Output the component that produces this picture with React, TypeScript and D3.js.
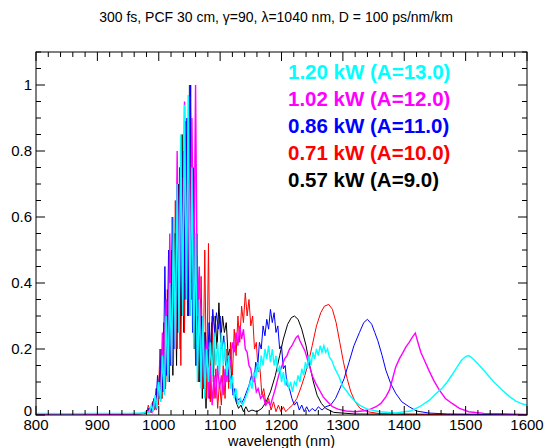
import React from "react";
import * as d3 from "d3";

const W = 552, H = 448;
const M = { left: 36, right: 527, top: 52, bottom: 415 };

const titleText = "300 fs, PCF 30 cm, \u03b3=90, \u03bb=1040 nm, D = 100 ps/nm/km";
const xLabel = "wavelength (nm)";
const xTicks = [800, 900, 1000, 1100, 1200, 1300, 1400, 1500, 1600];
const yTicks = [0, 0.2, 0.4, 0.6, 0.8, 1];
const yTickLabels = ["0", "0.2", "0.4", "0.6", "0.8", "1"];
const legendLabels = ["1.20 kW (A=13.0)", "1.02 kW (A=12.0)", "0.86 kW (A=11.0)", "0.71 kW (A=10.0)", "0.57 kW (A=9.0)"];
const legendColors = ["#00ffff", "#ff00ff", "#0000ff", "#ff0000", "#000000"];

const black9: [number, number][] = [[800,0.002],[900,0.002],[960,0.003],[980,0.006],[984,0.02],[987,0.008],[990,0.04],[993,0.015],[996,0.08],[999,0.03],[1002,0.15],[1005,0.05],[1008,0.22],[1011,0.08],[1014,0.35],[1017,0.1],[1020,0.45],[1023,0.12],[1026,0.55],[1029,0.15],[1032,0.7],[1035,0.2],[1038,0.85],[1041,0.25],[1044,0.89],[1047,0.3],[1050,1.0],[1053,0.4],[1056,0.75],[1059,0.2],[1062,0.55],[1065,0.1],[1068,0.35],[1071,0.05],[1074,0.25],[1077,0.02],[1080,0.2],[1083,0.05],[1086,0.28],[1089,0.1],[1092,0.3],[1095,0.2],[1098,0.34],[1101,0.22],[1104,0.3],[1107,0.25],[1110,0.28],[1113,0.18],[1116,0.2],[1119,0.1],[1122,0.08],[1126,0.04],[1130,0.02],[1134,0.03],[1138,0.01],[1142,0.025],[1146,0.01],[1152,0.015],[1160,0.01],[1168,0.02],[1175,0.04],[1182,0.07],[1190,0.12],[1197,0.18],[1203,0.23],[1210,0.275],[1216,0.295],[1221,0.3],[1227,0.29],[1233,0.26],[1240,0.21],[1246,0.15],[1252,0.1],[1258,0.06],[1265,0.035],[1272,0.02],[1285,0.008],[1320,0.003],[1400,0.002],[1600,0.001]];

const red10: [number, number][] = [[800,0.002],[900,0.002],[960,0.003],[980,0.005],[983,0.03],[986,0.01],[990,0.04],[993,0.015],[996,0.08],[999,0.03],[1002,0.2],[1005,0.05],[1008,0.28],[1011,0.08],[1014,0.38],[1017,0.12],[1021,0.5],[1024,0.15],[1027,0.65],[1030,0.2],[1033,0.5],[1036,0.15],[1039,0.72],[1042,0.25],[1045,0.85],[1048,0.3],[1051,1.0],[1054,0.35],[1057,0.6],[1060,0.15],[1063,0.48],[1066,0.1],[1069,0.42],[1072,0.08],[1075,0.5],[1078,0.05],[1081,0.52],[1084,0.04],[1087,0.3],[1090,0.05],[1093,0.14],[1096,0.02],[1099,0.1],[1102,0.03],[1105,0.15],[1108,0.05],[1111,0.2],[1114,0.08],[1117,0.22],[1120,0.12],[1123,0.26],[1126,0.18],[1129,0.3],[1132,0.22],[1135,0.33],[1138,0.28],[1141,0.37],[1144,0.3],[1147,0.35],[1150,0.27],[1153,0.3],[1156,0.2],[1159,0.22],[1162,0.13],[1165,0.14],[1168,0.06],[1171,0.08],[1175,0.03],[1179,0.05],[1183,0.015],[1187,0.04],[1191,0.01],[1195,0.03],[1199,0.01],[1203,0.025],[1207,0.01],[1212,0.02],[1218,0.03],[1225,0.05],[1232,0.085],[1238,0.12],[1244,0.16],[1250,0.21],[1257,0.27],[1264,0.31],[1270,0.33],[1277,0.335],[1283,0.32],[1289,0.28],[1295,0.22],[1301,0.16],[1307,0.11],[1313,0.07],[1320,0.04],[1328,0.02],[1340,0.01],[1360,0.004],[1450,0.002],[1600,0.001]];

const blue11: [number, number][] = [[800,0.002],[900,0.002],[960,0.003],[980,0.005],[984,0.02],[988,0.008],[992,0.05],[995,0.02],[998,0.12],[1001,0.05],[1004,0.2],[1007,0.07],[1010,0.45],[1013,0.12],[1016,0.5],[1019,0.15],[1022,0.6],[1025,0.2],[1028,0.55],[1031,0.25],[1034,0.75],[1037,0.3],[1040,0.8],[1043,0.35],[1046,0.9],[1049,0.3],[1052,1.0],[1055,0.25],[1058,0.6],[1061,0.15],[1064,0.4],[1067,0.1],[1070,0.3],[1073,0.08],[1076,0.25],[1079,0.12],[1082,0.28],[1085,0.18],[1088,0.32],[1091,0.25],[1094,0.31],[1097,0.26],[1100,0.3],[1103,0.2],[1106,0.24],[1109,0.15],[1112,0.17],[1115,0.1],[1118,0.12],[1121,0.06],[1124,0.08],[1127,0.04],[1131,0.05],[1135,0.035],[1139,0.05],[1143,0.07],[1147,0.09],[1151,0.12],[1155,0.1],[1158,0.16],[1161,0.14],[1164,0.22],[1167,0.2],[1170,0.27],[1173,0.24],[1176,0.29],[1179,0.26],[1182,0.32],[1185,0.28],[1188,0.31],[1191,0.25],[1194,0.27],[1197,0.2],[1200,0.21],[1203,0.14],[1206,0.15],[1209,0.09],[1213,0.08],[1217,0.05],[1221,0.03],[1225,0.04],[1229,0.015],[1233,0.03],[1237,0.01],[1241,0.025],[1245,0.01],[1250,0.02],[1255,0.012],[1260,0.025],[1266,0.015],[1272,0.025],[1280,0.03],[1288,0.05],[1294,0.075],[1302,0.11],[1310,0.16],[1318,0.21],[1327,0.25],[1334,0.28],[1340,0.29],[1347,0.275],[1352,0.25],[1357,0.225],[1364,0.18],[1370,0.136],[1378,0.095],[1386,0.066],[1396,0.04],[1408,0.025],[1420,0.012],[1440,0.006],[1470,0.003],[1600,0.001]];

const magenta12: [number, number][] = [[800,0.002],[900,0.002],[960,0.003],[980,0.005],[985,0.015],[989,0.008],[993,0.04],[996,0.015],[1000,0.1],[1003,0.04],[1006,0.25],[1009,0.08],[1012,0.35],[1015,0.1],[1018,0.55],[1021,0.15],[1024,0.45],[1027,0.2],[1030,0.8],[1033,0.3],[1036,0.79],[1039,0.35],[1042,0.95],[1045,0.4],[1048,0.7],[1051,0.3],[1054,0.9],[1057,0.4],[1060,1.0],[1063,0.3],[1066,0.45],[1069,0.15],[1072,0.3],[1075,0.08],[1078,0.22],[1081,0.05],[1084,0.15],[1087,0.03],[1090,0.12],[1093,0.05],[1096,0.15],[1099,0.08],[1102,0.12],[1105,0.06],[1108,0.14],[1111,0.1],[1114,0.18],[1117,0.15],[1120,0.22],[1123,0.19],[1126,0.25],[1129,0.21],[1132,0.27],[1135,0.23],[1138,0.26],[1141,0.2],[1144,0.19],[1147,0.15],[1150,0.14],[1153,0.1],[1156,0.11],[1159,0.07],[1162,0.08],[1166,0.05],[1170,0.06],[1174,0.03],[1178,0.04],[1182,0.03],[1186,0.055],[1190,0.08],[1194,0.11],[1197,0.13],[1201,0.15],[1205,0.17],[1209,0.18],[1213,0.2],[1217,0.21],[1221,0.225],[1224,0.235],[1227,0.24],[1230,0.225],[1234,0.21],[1238,0.195],[1242,0.17],[1246,0.145],[1251,0.115],[1256,0.095],[1262,0.075],[1268,0.055],[1275,0.04],[1283,0.025],[1292,0.018],[1305,0.012],[1320,0.01],[1335,0.013],[1345,0.018],[1354,0.025],[1362,0.035],[1370,0.055],[1376,0.076],[1381,0.11],[1386,0.145],[1392,0.17],[1398,0.19],[1403,0.207],[1408,0.22],[1413,0.235],[1418,0.248],[1423,0.215],[1427,0.19],[1433,0.165],[1440,0.136],[1448,0.105],[1457,0.076],[1467,0.05],[1478,0.035],[1490,0.02],[1505,0.01],[1530,0.005],[1600,0.002]];

const cyan13: [number, number][] = [[800,0.005],[850,0.004],[900,0.005],[950,0.005],[975,0.006],[980,0.012],[984,0.006],[988,0.03],[991,0.01],[994,0.06],[997,0.02],[1000,0.1],[1003,0.04],[1006,0.18],[1009,0.06],[1012,0.3],[1015,0.1],[1018,0.4],[1021,0.15],[1024,0.6],[1027,0.2],[1030,0.7],[1033,0.25],[1036,0.85],[1039,0.3],[1042,0.94],[1045,0.35],[1048,0.97],[1051,0.3],[1054,0.75],[1057,0.2],[1060,0.55],[1063,0.1],[1066,0.35],[1069,0.08],[1072,0.3],[1075,0.05],[1078,0.2],[1081,0.1],[1084,0.22],[1087,0.12],[1090,0.25],[1093,0.15],[1096,0.22],[1099,0.12],[1102,0.25],[1105,0.15],[1108,0.22],[1111,0.12],[1114,0.18],[1117,0.08],[1120,0.12],[1123,0.05],[1126,0.08],[1129,0.03],[1133,0.05],[1137,0.03],[1141,0.05],[1145,0.07],[1149,0.1],[1152,0.08],[1155,0.13],[1158,0.11],[1161,0.16],[1164,0.13],[1167,0.18],[1170,0.15],[1173,0.2],[1176,0.17],[1179,0.21],[1182,0.16],[1185,0.2],[1188,0.15],[1191,0.18],[1194,0.13],[1197,0.15],[1200,0.1],[1203,0.13],[1206,0.09],[1209,0.11],[1212,0.08],[1215,0.1],[1218,0.07],[1221,0.1],[1224,0.09],[1227,0.12],[1230,0.1],[1233,0.14],[1236,0.12],[1239,0.16],[1242,0.14],[1245,0.18],[1248,0.15],[1251,0.19],[1254,0.17],[1257,0.2],[1260,0.18],[1263,0.21],[1266,0.19],[1269,0.21],[1272,0.19],[1275,0.2],[1278,0.175],[1282,0.165],[1286,0.145],[1290,0.13],[1294,0.115],[1299,0.09],[1305,0.075],[1311,0.06],[1318,0.045],[1327,0.03],[1340,0.018],[1360,0.01],[1386,0.006],[1410,0.012],[1425,0.025],[1441,0.045],[1452,0.065],[1462,0.082],[1470,0.1],[1478,0.122],[1486,0.145],[1493,0.165],[1500,0.177],[1505,0.18],[1511,0.172],[1520,0.155],[1533,0.128],[1546,0.1],[1560,0.075],[1572,0.055],[1582,0.042],[1592,0.034],[1600,0.03]];

const seriesList = [
  { data: black9, color: "#000000", width: 1 },
  { data: red10, color: "#ff0000", width: 1 },
  { data: blue11, color: "#0000ff", width: 1 },
  { data: magenta12, color: "#ff00ff", width: 1.4 },
  { data: cyan13, color: "#00ffff", width: 1.4 },
];

export default function App() {
  const x = d3.scaleLinear().domain([800, 1600]).range([M.left, M.right]);
  const y = d3.scaleLinear().domain([0, 1.1]).range([M.bottom, M.top]);
  const line = d3.line<[number, number]>().x(d => x(d[0])).y(d => y(d[1])).curve(d3.curveLinear);
  const xMinor = d3.range(800, 1601, 20);
  const yMinor = d3.range(0, 1.101, 0.05);
  const font = "'Liberation Sans', Arial, Helvetica, sans-serif";
  return (
    <svg width={W} height={H} style={{ position: "absolute", left: 0, top: 0, background: "#fff" }}>
      <text x={276} y={22} textAnchor="middle" fontFamily={font} fontSize={14}>{titleText}</text>
      <defs>
        <clipPath id="plotclip"><rect x={M.left} y={M.top} width={M.right - M.left} height={M.bottom - M.top} /></clipPath>
      </defs>
      <g clipPath="url(#plotclip)">
        {seriesList.map((s, i) => (
          <path key={i} d={line(s.data) || ""} fill="none" stroke={s.color} strokeWidth={s.width} strokeLinejoin="miter" />
        ))}
      </g>
      <rect x={M.left} y={M.top} width={M.right - M.left} height={M.bottom - M.top} fill="none" stroke="#000" strokeWidth={1} />
      {xMinor.map((v, i) => {
        const major = v % 100 === 0;
        const len = major ? 9 : 5;
        return (
          <g key={"xt" + i}>
            <line x1={x(v)} x2={x(v)} y1={M.bottom} y2={M.bottom - len} stroke="#000" />
            <line x1={x(v)} x2={x(v)} y1={M.top} y2={M.top + len} stroke="#000" />
          </g>
        );
      })}
      {yMinor.map((v, i) => {
        const major = Math.abs(v * 5 - Math.round(v * 5)) < 1e-6;
        const len = major ? 9 : 5;
        return (
          <g key={"yt" + i}>
            <line x1={M.left} x2={M.left + len} y1={y(v)} y2={y(v)} stroke="#000" />
            <line x1={M.right} x2={M.right - len} y1={y(v)} y2={y(v)} stroke="#000" />
          </g>
        );
      })}
      {xTicks.map(v => (
        <text key={"xl" + v} x={x(v)} y={M.bottom + 15} textAnchor="middle" fontFamily={font} fontSize={15}>{v}</text>
      ))}
      {yTicks.map((v, i) => (
        <text key={"yl" + v} x={M.left - 4} y={y(v) + (v === 0 ? 1 : 5)} textAnchor="end" fontFamily={font} fontSize={15}>{yTickLabels[i]}</text>
      ))}
      <text x={(M.left + M.right) / 2} y={H - 2} textAnchor="middle" fontFamily={font} fontSize={14.5}>{xLabel}</text>
      {legendLabels.map((l, i) => (
        <text key={"lg" + i} x={288} y={79 + i * 27} fontFamily={font} fontSize={20.5} fontWeight="bold" fill={legendColors[i]}>{l}</text>
      ))}
    </svg>
  );
}
